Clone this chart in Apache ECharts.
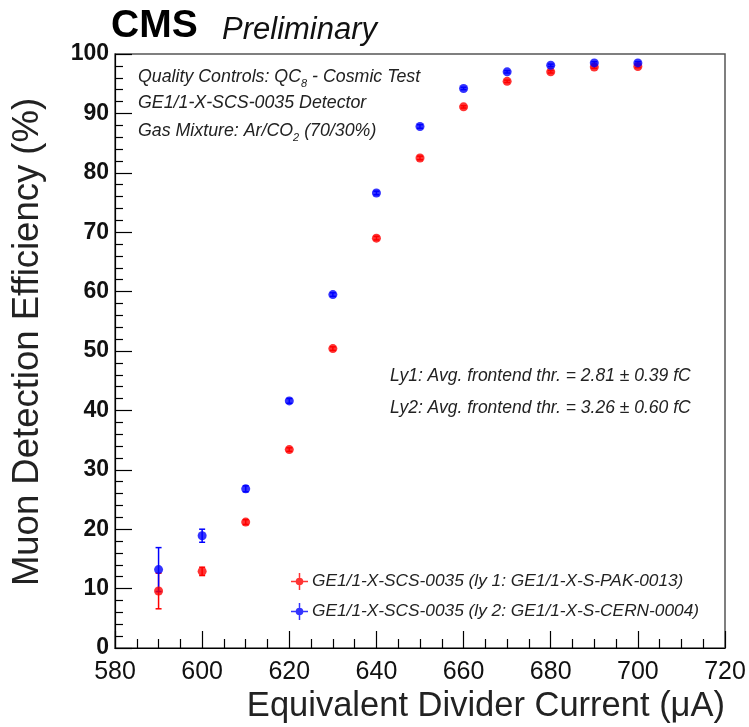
<!DOCTYPE html>
<html>
<head>
<meta charset="utf-8">
<script src="https://cdn.jsdelivr.net/npm/echarts@6/dist/echarts.min.js"></script>
<style>
html,body{margin:0;padding:0;background:#fff;}
#chart{width:749px;height:727px;}
</style>
</head>
<body>
<div id="chart"></div>
<script>
// ---- data ----
var currents = [590, 600, 610, 620, 630, 640, 650, 660, 670, 680, 690, 700];
var ly1Eff   = [9.6, 12.9, 21.2, 33.4, 50.4, 69.0, 82.5, 91.1, 95.4, 97.0, 97.8, 97.9];
var ly1Err   = [3.0, 0.7, 0.4, 0.3, 0.3, 0.3, 0.3, 0.2, 0.2, 0.2, 0.2, 0.2];
var ly2Eff   = [13.2, 18.9, 26.8, 41.6, 59.5, 76.6, 87.8, 94.2, 97.0, 98.1, 98.5, 98.5];
var ly2Err   = [3.7, 1.1, 0.5, 0.4, 0.3, 0.3, 0.3, 0.2, 0.2, 0.2, 0.2, 0.2];
var seriesNames = ['GE1/1-X-SCS-0035 (ly 1: GE1/1-X-S-PAK-0013)',
                   'GE1/1-X-SCS-0035 (ly 2: GE1/1-X-S-CERN-0004)'];
var seriesColors = ['#ff0000', '#0000ff'];

var FONT = '"Liberation Sans", Arial, Helvetica, sans-serif';

function pts(y) { return currents.map(function (x, i) { return [x, y[i]]; }); }
function errPts(y, e) { return currents.map(function (x, i) { return [x, y[i], e[i]]; }); }

function errRender(color) {
  return function (params, api) {
    var x = api.value(0), y = api.value(1), e = api.value(2);
    var lo = api.coord([x, y - e]);
    var hi = api.coord([x, y + e]);
    var cap = 3;
    var st = { stroke: color, lineWidth: 1.5 };
    return {
      type: 'group',
      children: [
        { type: 'line', shape: { x1: lo[0], y1: lo[1], x2: hi[0], y2: hi[1] }, style: st },
        { type: 'line', shape: { x1: lo[0] - cap, y1: lo[1], x2: lo[0] + cap, y2: lo[1] }, style: st },
        { type: 'line', shape: { x1: hi[0] - cap, y1: hi[1], x2: hi[0] + cap, y2: hi[1] }, style: st }
      ]
    };
  };
}

// cross with a filled dot (no overlapping sub-paths)
var legendIcon = 'path://M0,7.3h4.6v1.4h-4.6z M11.4,7.3h4.6v1.4h-4.6z M7.3,0h1.4v4.6h-1.4z M7.3,11.4h1.4v4.6h-1.4z M4.4,8a3.6,3.6 0 1,1 7.2,0a3.6,3.6 0 1,1 -7.2,0z';

var chart = echarts.init(document.getElementById('chart'));
var option = {
  backgroundColor: '#fff',
  animation: false,
  textStyle: { fontFamily: FONT },
  grid: { left: 115, right: 24, top: 54, bottom: 79, show: true, borderColor: '#555', borderWidth: 1.5, backgroundColor: 'transparent' },
  xAxis: {
    type: 'value', min: 580, max: 720, interval: 20,
    axisLine: { show: true, onZero: false, lineStyle: { color: '#000', width: 1.2 } },
    axisTick: { show: true, inside: true, length: 17, lineStyle: { color: '#000', width: 1.2 } },
    minorTick: { show: true, splitNumber: 4, length: 9, lineStyle: { color: '#000', width: 1.2 } },
    splitLine: { show: false },
    axisLabel: { margin: 12, fontSize: 25, color: '#111', fontFamily: FONT, showMinLabel: true, showMaxLabel: true }
  },
  yAxis: {
    type: 'value', min: 0, max: 100, interval: 10,
    axisLine: { show: true, onZero: false, lineStyle: { color: '#000', width: 1.2 } },
    axisTick: { show: true, inside: true, length: 17, lineStyle: { color: '#000', width: 1.2 } },
    minorTick: { show: true, splitNumber: 5, length: 8, lineStyle: { color: '#000', width: 1.2 } },
    splitLine: { show: false },
    axisLabel: { margin: 6, fontSize: 23, fontWeight: 'bold', color: '#111', fontFamily: FONT }
  },
  legend: {
    orient: 'vertical', left: 286, top: 568, itemWidth: 17, itemHeight: 17, itemGap: 13,
    icon: legendIcon,
    textStyle: { fontSize: 17.3, fontStyle: 'italic', color: '#222', fontFamily: FONT, padding: [0, 0, 0, -1] },
    data: seriesNames
  },
  series: [
    { type: 'custom', name: 'err1', renderItem: errRender(seriesColors[0]), data: errPts(ly1Eff, ly1Err), z: 2, encode: { x: 0, y: 1 } },
    { type: 'custom', name: 'err2', renderItem: errRender(seriesColors[1]), data: errPts(ly2Eff, ly2Err), z: 2, encode: { x: 0, y: 1 } },
    { type: 'scatter', name: seriesNames[0], data: pts(ly1Eff), symbol: 'circle', symbolSize: 9, itemStyle: { color: seriesColors[0] }, z: 3 },
    { type: 'scatter', name: seriesNames[1], data: pts(ly2Eff), symbol: 'circle', symbolSize: 9, itemStyle: { color: seriesColors[1] }, z: 4 }
  ],
  graphic: [
    { type: 'text', left: 111, top: 7, style: { text: 'CMS', font: 'bold 39px ' + FONT, fill: '#000' } },
    { type: 'text', left: 222, top: 15, style: { text: 'Preliminary', font: 'italic 31px ' + FONT, fill: '#111' } },
    { type: 'text', x: 138, y: 77, style: {
        text: '{n|Quality Controls: QC}{s|8}{n| - Cosmic Test}', verticalAlign: 'middle',
        rich: { n: { font: 'italic 17.8px ' + FONT, fill: '#222', lineHeight: 22 }, s: { font: 'italic 11px ' + FONT, fill: '#222', lineHeight: 22, padding: [14, 0, 0, 0] } }
      } },
    { type: 'text', x: 138, y: 103, style: { text: 'GE1/1-X-SCS-0035 Detector', verticalAlign: 'middle', font: 'italic 17.8px ' + FONT, fill: '#222' } },
    { type: 'text', x: 138, y: 131, style: {
        text: '{n|Gas Mixture: Ar/CO}{s|2}{n| (70/30%)}', verticalAlign: 'middle',
        rich: { n: { font: 'italic 17.8px ' + FONT, fill: '#222', lineHeight: 22 }, s: { font: 'italic 11px ' + FONT, fill: '#222', lineHeight: 22, padding: [14, 0, 0, 0] } }
      } },
    { type: 'text', x: 390, y: 376, style: { text: 'Ly1: Avg. frontend thr. = 2.81 \u00b1 0.39 fC', verticalAlign: 'middle', font: 'italic 17.5px ' + FONT, fill: '#222' } },
    { type: 'text', x: 390, y: 408, style: { text: 'Ly2: Avg. frontend thr. = 3.26 \u00b1 0.60 fC', verticalAlign: 'middle', font: 'italic 17.5px ' + FONT, fill: '#222' } },
    { type: 'text', x: 725, y: 706, style: { text: 'Equivalent Divider Current (\u03bcA)', align: 'right', verticalAlign: 'middle', font: '34.5px ' + FONT, fill: '#222' } },
    { type: 'text', x: 28, y: 342, rotation: Math.PI / 2, style: { text: 'Muon Detection Efficiency (%)', align: 'center', verticalAlign: 'middle', font: '36.5px ' + FONT, fill: '#222' } }
  ]
};
chart.setOption(option);
</script>
</body>
</html>
